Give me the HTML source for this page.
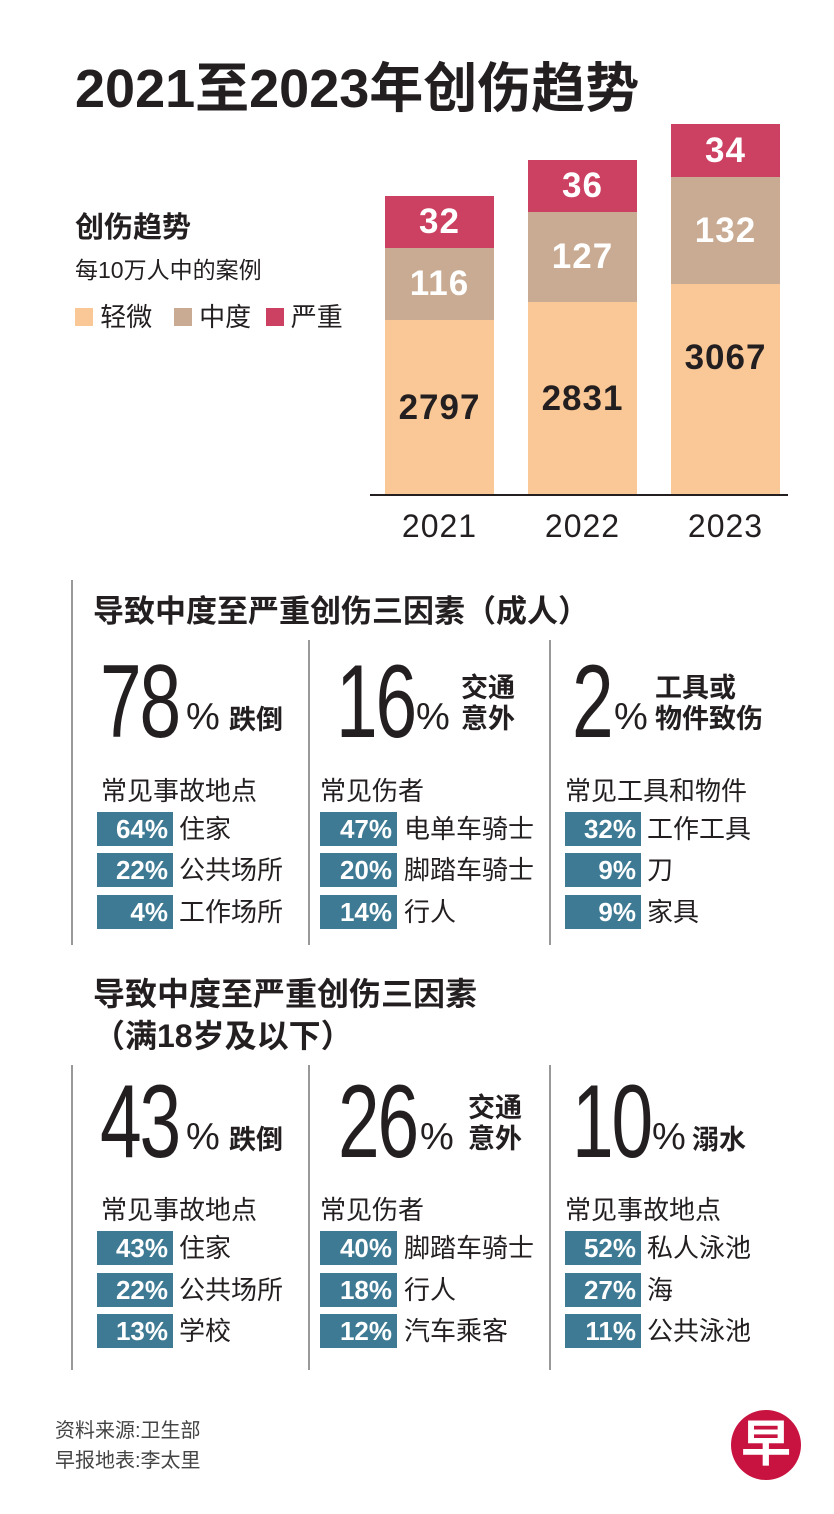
<!DOCTYPE html>
<html><head><meta charset="utf-8"><style>
body{margin:0;width:834px;height:1514px;background:#fff;position:relative;overflow:hidden;font-family:"Liberation Sans","Noto Sans CJK SC",sans-serif;color:#231f20}
.a{position:absolute;white-space:nowrap}
.bar{position:absolute;width:109px;display:flex;align-items:center;justify-content:center;font-weight:bold;font-size:35px;letter-spacing:1px}
.vl{position:absolute;width:1.5px;background:#999}
.big{position:absolute;font-size:104px;line-height:1;transform:scaleX(.72);transform-origin:left top;letter-spacing:-3px}
.pct{position:absolute;font-size:38px;line-height:1}
.lbl{position:absolute;font-weight:bold;font-size:27px;line-height:31px}
.sub{position:absolute;font-size:26px}
.box{position:absolute;background:#3e7a93;color:#fff;font-weight:bold;font-size:26px;height:34px;line-height:34px;text-align:right;padding-right:5px;box-sizing:border-box}
.txt{position:absolute;font-size:26px;line-height:34px}
</style></head><body>
<div class="a" style="left:75px;top:44px;font-size:54px;font-weight:bold">2021至2023年创伤趋势</div>
<div class="a" style="left:75px;top:204px;font-size:29px;font-weight:bold">创伤趋势</div>
<div class="a" style="left:75px;top:251px;font-size:23px">每10万人中的案例</div>
<div class="a" style="left:75px;top:297px;font-size:26px"><span style="display:inline-block;width:18px;height:18px;background:#f9c896"></span> 轻微 &nbsp;&nbsp;<span style="display:inline-block;width:18px;height:18px;background:#c8ab92"></span> 中度 &nbsp;<span style="display:inline-block;width:18px;height:18px;background:#cc4062"></span> 严重</div>

<div class="bar" style="left:385px;top:196px;height:52px;background:#cc4062;color:#fff">32</div>
<div class="bar" style="left:385px;top:248px;height:72px;background:#c8ab92;color:#fff">116</div>
<div class="bar" style="left:385px;top:320px;height:175px;background:#f9c896">2797</div>
<div class="bar" style="left:528px;top:160px;height:52px;background:#cc4062;color:#fff">36</div>
<div class="bar" style="left:528px;top:212px;height:90px;background:#c8ab92;color:#fff">127</div>
<div class="bar" style="left:528px;top:302px;height:193px;background:#f9c896">2831</div>
<div class="bar" style="left:671px;top:124px;height:53px;background:#cc4062;color:#fff">34</div>
<div class="bar" style="left:671px;top:177px;height:107px;background:#c8ab92;color:#fff">132</div>
<div class="bar" style="left:671px;top:284px;height:211px;background:#f9c896;align-items:flex-start;padding-top:54px;box-sizing:border-box">3067</div>
<div class="a" style="left:370px;top:494px;width:418px;height:2px;background:#231f20"></div>
<div class="a" style="left:385px;top:508px;width:109px;text-align:center;font-size:32px;letter-spacing:1px">2021</div>
<div class="a" style="left:528px;top:508px;width:109px;text-align:center;font-size:32px;letter-spacing:1px">2022</div>
<div class="a" style="left:671px;top:508px;width:109px;text-align:center;font-size:32px;letter-spacing:1px">2023</div>

<div class="a" style="left:93px;top:586px;font-size:31px;font-weight:bold">导致中度至严重创伤三因素（成人）</div>
<div class="vl" style="left:71px;top:580px;height:365px"></div>
<div class="vl" style="left:308px;top:640px;height:305px"></div>
<div class="vl" style="left:549px;top:640px;height:305px"></div>

<div class="big" style="left:100px;top:650px">78</div><div class="pct" style="left:186px;top:698px">%</div><div class="lbl" style="left:229px;top:705px">跌倒</div>
<div class="big" style="left:336px;top:650px">16</div><div class="pct" style="left:416px;top:698px">%</div><div class="lbl" style="left:461px;top:673px">交通<br>意外</div>
<div class="big" style="left:572px;top:650px">2</div><div class="pct" style="left:614px;top:698px">%</div><div class="lbl" style="left:655px;top:673px">工具或<br>物件致伤</div>

<div class="sub" style="left:101px;top:771px">常见事故地点</div>
<div class="sub" style="left:320px;top:771px">常见伤者</div>
<div class="sub" style="left:565px;top:771px">常见工具和物件</div>

<div class="box" style="left:97px;top:812px;width:76px">64%</div><div class="txt" style="left:179px;top:812px">住家</div>
<div class="box" style="left:97px;top:853px;width:76px">22%</div><div class="txt" style="left:179px;top:853px">公共场所</div>
<div class="box" style="left:97px;top:895px;width:76px">4%</div><div class="txt" style="left:179px;top:895px">工作场所</div>
<div class="box" style="left:320px;top:812px;width:77px">47%</div><div class="txt" style="left:404px;top:812px">电单车骑士</div>
<div class="box" style="left:320px;top:853px;width:77px">20%</div><div class="txt" style="left:404px;top:853px">脚踏车骑士</div>
<div class="box" style="left:320px;top:895px;width:77px">14%</div><div class="txt" style="left:404px;top:895px">行人</div>
<div class="box" style="left:565px;top:812px;width:76px">32%</div><div class="txt" style="left:647px;top:812px">工作工具</div>
<div class="box" style="left:565px;top:853px;width:76px">9%</div><div class="txt" style="left:647px;top:853px">刀</div>
<div class="box" style="left:565px;top:895px;width:76px">9%</div><div class="txt" style="left:647px;top:895px">家具</div>

<div class="a" style="left:93px;top:973px;font-size:32px;font-weight:bold;line-height:42px">导致中度至严重创伤三因素<br>（满18岁及以下）</div>
<div class="vl" style="left:71px;top:1065px;height:305px"></div>
<div class="vl" style="left:308px;top:1065px;height:305px"></div>
<div class="vl" style="left:549px;top:1065px;height:305px"></div>

<div class="big" style="left:100px;top:1070px">43</div><div class="pct" style="left:186px;top:1118px">%</div><div class="lbl" style="left:229px;top:1125px">跌倒</div>
<div class="big" style="left:338px;top:1070px">26</div><div class="pct" style="left:420px;top:1118px">%</div><div class="lbl" style="left:468px;top:1093px">交通<br>意外</div>
<div class="big" style="left:572px;top:1070px">10</div><div class="pct" style="left:652px;top:1118px">%</div><div class="lbl" style="left:692px;top:1125px">溺水</div>

<div class="sub" style="left:101px;top:1190px">常见事故地点</div>
<div class="sub" style="left:320px;top:1190px">常见伤者</div>
<div class="sub" style="left:565px;top:1190px">常见事故地点</div>

<div class="box" style="left:97px;top:1231px;width:76px">43%</div><div class="txt" style="left:179px;top:1231px">住家</div>
<div class="box" style="left:97px;top:1273px;width:76px">22%</div><div class="txt" style="left:179px;top:1273px">公共场所</div>
<div class="box" style="left:97px;top:1314px;width:76px">13%</div><div class="txt" style="left:179px;top:1314px">学校</div>
<div class="box" style="left:320px;top:1231px;width:77px">40%</div><div class="txt" style="left:404px;top:1231px">脚踏车骑士</div>
<div class="box" style="left:320px;top:1273px;width:77px">18%</div><div class="txt" style="left:404px;top:1273px">行人</div>
<div class="box" style="left:320px;top:1314px;width:77px">12%</div><div class="txt" style="left:404px;top:1314px">汽车乘客</div>
<div class="box" style="left:565px;top:1231px;width:76px">52%</div><div class="txt" style="left:647px;top:1231px">私人泳池</div>
<div class="box" style="left:565px;top:1273px;width:76px">27%</div><div class="txt" style="left:647px;top:1273px">海</div>
<div class="box" style="left:565px;top:1314px;width:76px">11%</div><div class="txt" style="left:647px;top:1314px">公共泳池</div>

<div class="a" style="left:55px;top:1416px;font-size:20px;line-height:30px;color:#444">资料来源:卫生部<br>早报地表:李太里</div>
<div class="a" style="left:731px;top:1410px;width:70px;height:70px;border-radius:50%;background:#c8123f;color:#fff;font-size:50px;font-weight:bold;text-align:center;line-height:68px">早</div>
</body></html>
